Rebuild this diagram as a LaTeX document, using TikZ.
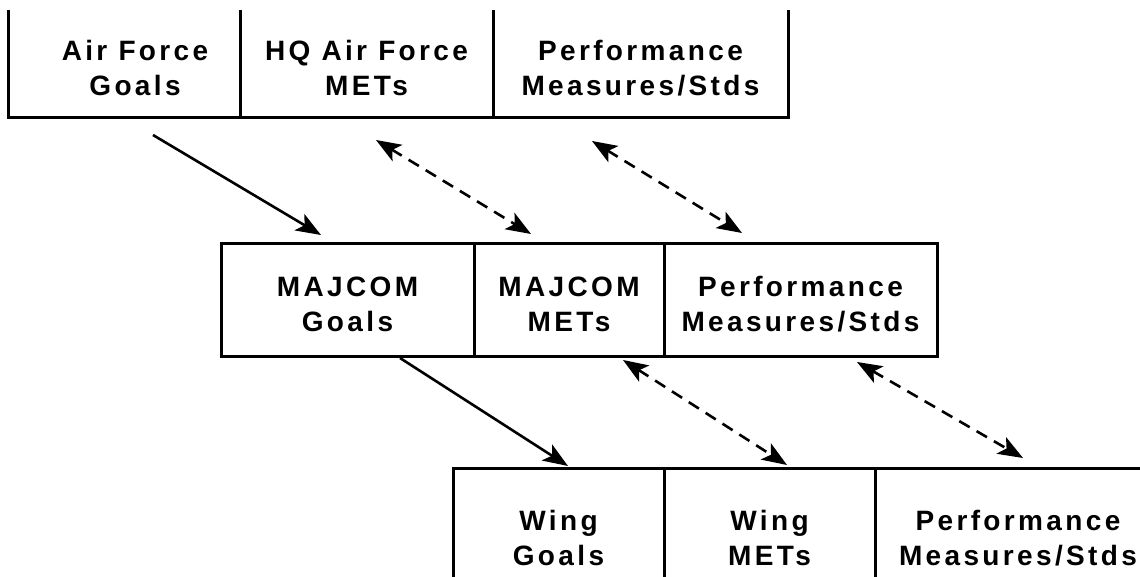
\documentclass[tikz,border=0pt]{standalone}
\usepackage{fontspec}
\newfontfamily\lblfont{Liberation Sans}[LetterSpace=12]
\usetikzlibrary{calc,positioning,arrows.meta}
\tikzset{
  cell/.style={rectangle, inner sep=0pt, outer sep=0pt, align=center, text height=63pt,
    font=\lblfont\bfseries\fontsize{28}{35}\selectfont},
  frame/.style={draw=black, line width=3pt},
  flow/.style={-{Stealth[length=25pt,width=19pt,inset=6pt]}, draw=black, line width=2.6pt},
  link/.style={{Stealth[length=25pt,width=19pt,inset=6pt]}-{Stealth[length=25pt,width=19pt,inset=6pt]},
    draw=black, line width=2.6pt, dash pattern=on 12pt off 8pt}
}

\begin{document}
\begin{tikzpicture}[x=1pt, y=-1pt]
  \useasboundingbox (0,0) rectangle (1140,577);
  \clip (0,0) rectangle (1140,577);
  % Air Force level
  \node[cell, minimum width=210pt, minimum height=108pt] (afgoals) at (135,64) {Air Force\\Goals};
  \node[cell, minimum width=253pt, minimum height=108pt, right=0pt of afgoals] (hqmets) {HQ Air Force\\METs};
  \node[cell, minimum width=295pt, minimum height=108pt, right=0pt of hqmets] (afpm) {Performance\\Measures/Stds};
  % MAJCOM level
  \node[cell, minimum width=253pt, minimum height=112pt] (mjgoals) at (347.5,300) {MAJCOM\\Goals};
  \node[cell, minimum width=190pt, minimum height=112pt, right=0pt of mjgoals] (mjmets) {MAJCOM\\METs};
  \node[cell, minimum width=273pt, minimum height=112pt, right=0pt of mjmets] (mjpm) {Performance\\Measures/Stds};
  % Wing level
  \node[cell, minimum width=211pt, minimum height=132pt] (wgoals) at (558.5,534) {Wing\\Goals};
  \node[cell, minimum width=211pt, minimum height=132pt, right=0pt of wgoals] (wmets) {Wing\\METs};
  \node[cell, minimum width=286pt, minimum height=132pt, right=0pt of wmets] (wpm) {Performance\\Measures/Stds};
  % frames
  \draw[frame] ([xshift=-22pt]afgoals.north west) |- (afpm.south east) -- (afpm.north east);
  \draw[frame] (afgoals.north east) -- (afgoals.south east);
  \draw[frame] (hqmets.north east) -- (hqmets.south east);
  \draw[frame] (mjgoals.north west) rectangle (mjpm.south east);
  \draw[frame] (mjgoals.north east) -- (mjgoals.south east);
  \draw[frame] (mjmets.north east) -- (mjmets.south east);
  \draw[frame] (wgoals.south west) |- (wpm.north east);
  \draw[frame] (wgoals.north east) -- (wgoals.south east);
  \draw[frame] (wmets.north east) -- (wmets.south east);
  % goals flow down, METs and standards linked both ways
  \draw[flow] ($(afgoals.south)+(18,17)$) -- ($(mjgoals.north)+(-26.5,-9)$);
  \draw[link] ($(hqmets.south)+(9.5,22)$) -- ($(mjmets.north)+(-38,-10)$);
  \draw[link] ($(afpm.south)+(-48.5,23)$) -- ($(mjpm.north)+(-58.5,-11)$);
  \draw[flow] ($(mjgoals.south)+(52.5,2)$) -- ($(wgoals.north)+(9.5,-2)$);
  \draw[link] ($(mjmets.south)+(54,4)$) -- ($(wmets.north)+(17.5,-3)$);
  \draw[link] ($(mjpm.south)+(56.5,6)$) -- ($(wpm.north)+(5,-10)$);
\end{tikzpicture}
\end{document}
